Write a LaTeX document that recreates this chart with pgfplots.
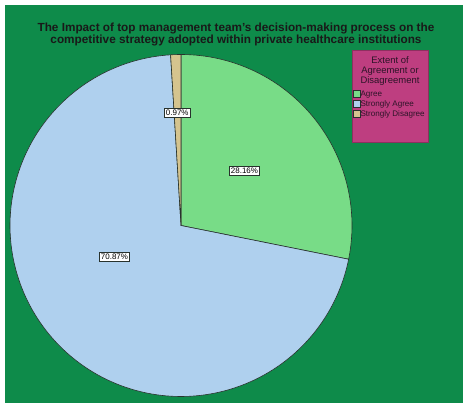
\documentclass[border=0pt]{standalone}
\usepackage{fontspec}
\setmainfont{Liberation Sans}
\usepackage{pgfplots}
\pgfplotsset{compat=1.18}
\definecolor{bg}{RGB}{14,139,74}
\definecolor{cagree}{RGB}{120,220,135}
\definecolor{csagree}{RGB}{175,208,238}
\definecolor{csdis}{RGB}{213,196,142}
\definecolor{legbg}{RGB}{190,62,128}
\definecolor{edge}{RGB}{40,50,45}
\definecolor{legtext}{RGB}{45,20,40}
\def\vA{28.16}\def\vB{70.87}\def\vC{0.97}
\begin{document}
\begin{tikzpicture}
\pgfmathsetmacro\aA{90}
\pgfmathsetmacro\aB{90-3.6*\vA}
\pgfmathsetmacro\aC{\aB-3.6*\vB}
\pgfmathsetmacro\aD{\aC-3.6*\vC}
\fill[white] (0,0) rectangle (463bp,403bp);
\fill[bg] (5bp,0) rectangle (463bp,398bp);
\filldraw[fill=legbg, draw=legbg!75!black, line width=0.6pt] (352bp,261bp) rectangle (428bp,353bp);
\begin{axis}[
  at={(181bp,177.5bp)}, anchor=origin,
  width=342bp, height=342bp, scale only axis,
  xmin=-1, xmax=1, ymin=-1, ymax=1,
  hide axis, clip=false,
  legend image code/.code={\draw[#1, line width=0.5pt] (0bp,-3.5bp) rectangle (7bp,3.5bp);},
  legend style={at={(axis cs:1.005,0.798)}, anchor=north west, draw=none, fill=none,
    font=\fontsize{8.1}{9}\selectfont, text=legtext, inner sep=0pt, row sep=0pt,
    nodes={inner sep=0pt, minimum height=10bp, text height=6bp, text depth=2bp},
    /tikz/every even column/.append style={column sep=3bp}},
  legend cell align=left,
]
\addplot[fill=cagree, draw=edge, line width=0.6pt, domain=\aB:\aA, samples=90] ({cos(x)},{sin(x)}) -- (axis cs:0,0) -- cycle;
\addlegendentry{Agree}
\addplot[fill=csagree, draw=edge, line width=0.6pt, domain=\aC:\aB, samples=200] ({cos(x)},{sin(x)}) -- (axis cs:0,0) -- cycle;
\addlegendentry{Strongly Agree}
\addplot[fill=csdis, draw=edge, line width=0.6pt, domain=\aD:\aC, samples=10] ({cos(x)},{sin(x)}) -- (axis cs:0,0) -- cycle;
\addlegendentry{Strongly Disagree}
\node[draw=edge, fill=white, inner sep=1.6pt, line width=0.5pt, font=\fontsize{8}{9}\selectfont] at (axis cs:0.371,0.319) {28.16\%};
\node[draw=edge, fill=white, inner sep=1.6pt, line width=0.5pt, font=\fontsize{8}{9}\selectfont] at (axis cs:-0.389,-0.184) {70.87\%};
\node[draw=edge, fill=white, inner sep=1.6pt, line width=0.5pt, font=\fontsize{8}{9}\selectfont] at (axis cs:-0.022,0.661) {0.97\%};
\end{axis}
\node[font=\bfseries\fontsize{11.8}{13}\selectfont, align=center, text=black!90] at (236bp,368.5bp) {The Impact of top management team’s decision-making process on the\\competitive strategy adopted within private healthcare institutions};
\node[font=\fontsize{9.5}{10}\selectfont, align=center, text=legtext] at (390bp,332.3bp) {Extent of\\Agreement or\\Disagreement};
\pgfresetboundingbox
\path[use as bounding box] (0,0) rectangle (463bp,403bp);
\end{tikzpicture}
\end{document}
